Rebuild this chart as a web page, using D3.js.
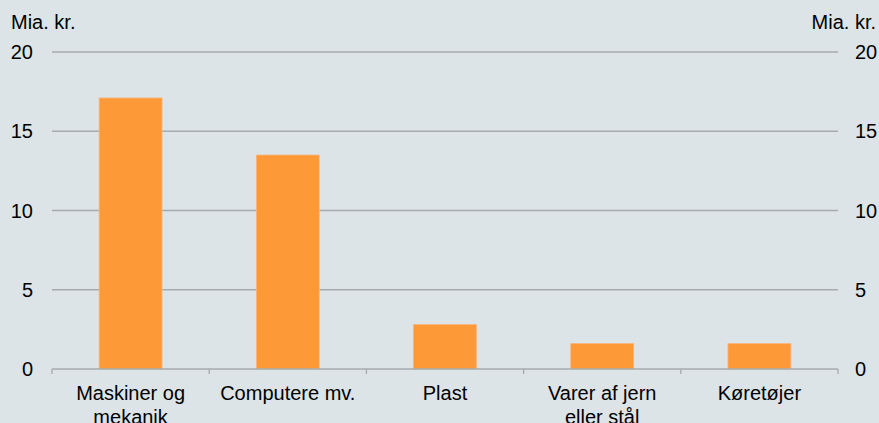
<!DOCTYPE html>
<html>
<head>
<meta charset="utf-8">
<script src="https://cdn.jsdelivr.net/npm/d3@7"></script>
<style>
  body { margin: 0; background: #dce4e7; }
  svg { display: block; font-family: Arial, "Liberation Sans", sans-serif; }
</style>
</head>
<body>
<svg id="chart" width="879" height="423"></svg>
<script>
// categories and values (mia. kr.)
const categories = [["Maskiner og", "mekanik"], ["Computere mv."], ["Plast"], ["Varer af jern", "eller stål"], ["Køretøjer"]];
const values = [17.1, 13.5, 2.8, 1.6, 1.6];
const yTicks = [0, 5, 10, 15, 20];
const unitLabel = "Mia. kr.";

const svg = d3.select("#chart");
const width = +svg.attr("width");
const height = +svg.attr("height");

const margin = { top: 52, right: 41, bottom: 54, left: 52 };
const innerW = width - margin.left - margin.right;
const innerH = height - margin.top - margin.bottom;

svg.append("rect").attr("width", width).attr("height", height).attr("fill", "#dce4e7");

const g = svg.append("g").attr("transform", `translate(${margin.left},${margin.top})`);

const x = d3.scaleBand()
  .domain(d3.range(categories.length))
  .range([0, innerW])
  .padding(0);

const y = d3.scaleLinear().domain([0, 20]).range([innerH, 0]);

// gridlines
g.selectAll("line.grid")
  .data(yTicks.filter(d => d > 0))
  .enter().append("line")
    .attr("class", "grid")
    .attr("x1", 0)
    .attr("x2", innerW)
    .attr("y1", d => y(d))
    .attr("y2", d => y(d))
    .attr("stroke", "#a7abac")
    .attr("stroke-width", 1.3);

// bars
const barW = x.bandwidth() * 0.4;
g.selectAll("rect.bar")
  .data(values)
  .enter().append("rect")
    .attr("class", "bar")
    .attr("x", (d, i) => x(i) + (x.bandwidth() - barW) / 2)
    .attr("y", d => y(d))
    .attr("width", barW)
    .attr("height", d => innerH - y(d))
    .attr("fill", "#fd9a37")
    .attr("stroke", "#f9b47c")
    .attr("stroke-width", 0.8);

// x axis line and ticks at band edges
g.append("line")
  .attr("x1", 0).attr("x2", innerW)
  .attr("y1", innerH).attr("y2", innerH)
  .attr("stroke", "#a7abac")
  .attr("stroke-width", 1.3);

const edges = d3.range(categories.length).map(i => x(i)).concat([innerW]);
g.selectAll("line.tick")
  .data(edges)
  .enter().append("line")
    .attr("class", "tick")
    .attr("x1", d => d).attr("x2", d => d)
    .attr("y1", innerH).attr("y2", innerH + 5)
    .attr("stroke", "#a7abac")
    .attr("stroke-width", 1.3);

// category labels
const lab = g.selectAll("text.cat")
  .data(categories)
  .enter().append("text")
    .attr("class", "cat")
    .attr("text-anchor", "middle")
    .attr("font-size", 20)
    .attr("fill", "#000");

lab.selectAll("tspan")
  .data((d, i) => d.map(t => ({ t: t, i: i })))
  .enter().append("tspan")
    .attr("x", d => x(d.i) + x.bandwidth() / 2)
    .attr("y", (d, j) => innerH + 31 + j * 24)
    .text(d => d.t);

// y tick labels, left and right
g.selectAll("text.yl")
  .data(yTicks)
  .enter().append("text")
    .attr("class", "yl")
    .attr("x", -19)
    .attr("y", d => y(d))
    .attr("dy", "0.35em")
    .attr("text-anchor", "end")
    .attr("font-size", 20)
    .text(d => d);

g.selectAll("text.yr")
  .data(yTicks)
  .enter().append("text")
    .attr("class", "yr")
    .attr("x", innerW + 17)
    .attr("y", d => y(d))
    .attr("dy", "0.35em")
    .attr("text-anchor", "start")
    .attr("font-size", 20)
    .text(d => d);

// unit labels
svg.append("text")
  .attr("x", 11).attr("y", 29)
  .attr("font-size", 20)
  .text(unitLabel);

svg.append("text")
  .attr("x", 876).attr("y", 29)
  .attr("text-anchor", "end")
  .attr("font-size", 20)
  .text(unitLabel);
</script>
</body>
</html>
